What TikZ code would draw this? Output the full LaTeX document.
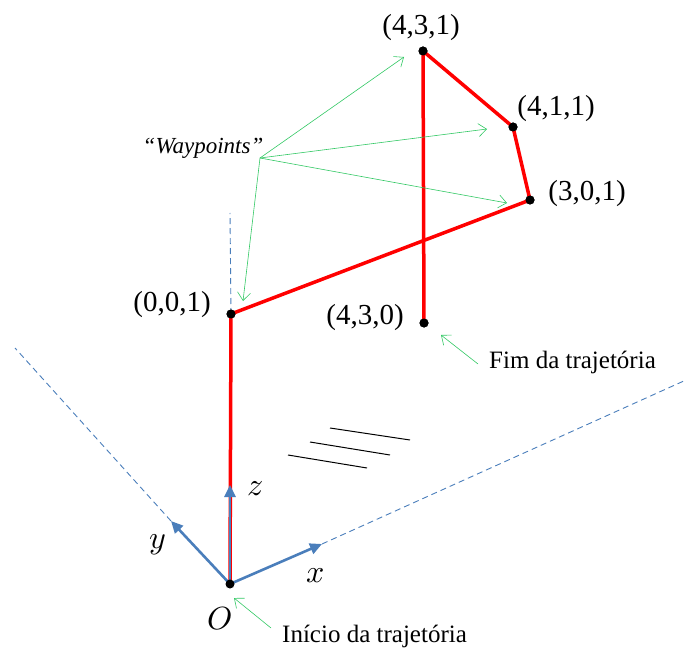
\documentclass[tikz,border=0pt]{standalone}
\usepackage{fontspec}
\usepackage{unicode-math}
\setmainfont{Liberation Serif}
\setmathfont{Latin Modern Math}
\usetikzlibrary{arrows.meta}
\definecolor{axblue}{RGB}{74,126,187}
\definecolor{wgreen}{RGB}{50,200,100}
\tikzset{
  path/.style={red, line width=3.5pt, line join=round},
  axis/.style={axblue, line width=2.6pt, -{Triangle[length=12pt,width=11pt]}},
  axdash/.style={axblue, dash pattern=on 6pt off 4pt, line width=0.9pt},
  pt/.style={circle, fill=black, inner sep=0pt, minimum size=9pt},
  lab/.style={font=\fontsize{29}{31}\selectfont},
  note/.style={font=\fontsize{25}{27}\selectfont},
  mlab/.style={font=\fontsize{32}{34}\selectfont},
  gar/.style={wgreen, line width=0.6pt, -{Straight Barb[length=8pt,width=13pt]}},
  hatch/.style={black, line width=1pt}
}
\begin{document}
\begin{tikzpicture}[x=1pt,y=-1pt]
\useasboundingbox (0,0) rectangle (686,650);
% coordinates
\coordinate (O) at (230,584);
\coordinate (ztip) at (230,485);
\coordinate (ytip) at (171,521);
\coordinate (xtip) at (322,544);
\coordinate (yend) at (15,348);
\coordinate (xend) at (686,380);
\coordinate (vtop) at (230,213);
% dashed axes
\draw[axdash] (ytip) -- (yend);
\draw[axdash] (xtip) -- (xend);
\draw[axdash] (231,314) -- (vtop);
% hatch lines
\draw[hatch] (330,428) -- (410,440);
\draw[hatch] (310,442) -- (390,455);
\draw[hatch] (288,455) -- (367,468);
% red trajectory
\node[pt] (p0) at (231,314) {};
\node[pt] (p1) at (530,200) {};
\node[pt] (p2) at (513,127) {};
\node[pt] (p3) at (423,51) {};
\node[pt] (p4) at (424,323) {};
\draw[path] (O) -- (p0.center) -- (p1.center) -- (p2.center) -- (p3.center) -- (p4.center);
\foreach \p in {p0,p1,p2,p3,p4} \fill (\p) circle (4.5pt);
% axes
\draw[axis] (O) -- (ztip);
\draw[axis] (O) -- (ytip);
\draw[axis] (O) -- (xtip);
\node[pt] (Odot) at (O) {};
% axis labels
\node[mlab] (zl) at (255,489) {$z$};
\node[mlab] (yl) at (158,545) {$y$};
\node[mlab] (xl) at (316,576) {$x$};
\node[mlab] (Ol) at (220,619) {$O$};
% point labels
\node[lab] (l3) at (421,28) {(4,3,1)};
\node[lab] (l2) at (556,109) {(4,1,1)};
\node[lab] (l1) at (587,194) {(3,0,1)};
\node[lab] (l0) at (172,305) {(0,0,1)};
\node[lab] (l4) at (365,318) {(4,3,0)};
% waypoints
\node[note, font=\fontsize{23}{25}\selectfont\itshape] (wp) at (203,148) {``Waypoints''};
\coordinate (wpo) at (260,158);
\coordinate (a3) at (404,57);
\coordinate (a2) at (487,129);
\coordinate (a1) at (507,203);
\coordinate (a0) at (243,301);
\draw[gar] (wpo) -- (a3);
\draw[gar] (wpo) -- (a2);
\draw[gar] (wpo) -- (a1);
\draw[gar] (wpo) -- (a0);
% end / start notes
\node[note, anchor=west, inner sep=0pt] (fim) at (489,362) {Fim da trajetória};
\coordinate (fimtip) at (441,335);
\draw[gar] (478,364) -- (fimtip);
\node[note, anchor=west, inner sep=0pt] (ini) at (282,636) {Início da trajetória};
\coordinate (initip) at (234,598);
\draw[gar] (271,628) -- (initip);
\end{tikzpicture}
\end{document}
